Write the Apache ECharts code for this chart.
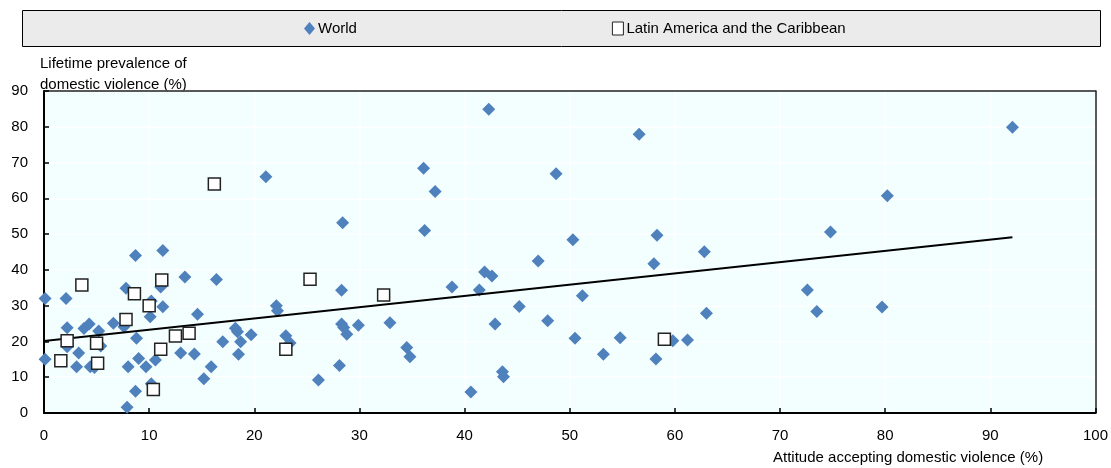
<!DOCTYPE html>
<html>
<head>
<meta charset="utf-8">
<script src="https://cdn.jsdelivr.net/npm/echarts@6/dist/echarts.min.js"></script>
<style>
  html, body { margin: 0; padding: 0; background: #fff; }
  #chart { width: 1111px; height: 468px; }
</style>
</head>
<body>
<div id="chart"></div>
<script>
// World: attitude accepting domestic violence (%) vs lifetime prevalence (%)
const worldAttitude = [
  0.1, 2.1, 8.7, 11.3, 13.4, 16.4, 7.8, 11.1, 10.2, 10.1, 11.3, 2.2, 3.8, 4.3, 5.2, 6.6, 7.6,
  14.6, 17.0, 8.8, 3.3, 2.2, 0.1, 5.4, 13.0, 14.3, 15.9, 15.2, 9.0, 10.6, 9.7, 8.0, 8.7, 7.9,
  10.2, 3.1, 4.4, 4.8,
  21.1, 28.4, 28.3, 22.1, 22.2, 18.2, 18.4, 19.7, 18.7, 23.0, 23.4, 28.3, 28.5, 28.8, 29.9,
  28.1, 26.1, 18.5,
  42.3, 36.1, 37.2, 48.7, 36.2, 50.3, 47.0, 41.9, 42.6, 38.8, 41.4, 45.2, 32.9, 42.9, 47.9,
  34.5, 34.8, 43.6, 43.7, 40.6, 50.5,
  56.6, 58.3, 58.0, 62.8, 51.2, 63.0, 54.8, 53.2, 59.8, 61.2, 58.2,
  92.1, 80.2, 74.8, 72.6, 73.5, 79.7
];
const worldPrevalence = [
  32.0, 32.0, 44.0, 45.4, 38.0, 37.3, 34.9, 35.2, 31.3, 26.9, 29.7, 23.8, 23.6, 24.9, 22.9, 25.1, 24.1,
  27.6, 19.9, 20.9, 16.8, 18.5, 15.0, 18.7, 16.8, 16.5, 12.9, 9.6, 15.2, 14.8, 12.9, 12.9, 6.1, 1.6,
  8.2, 12.9, 12.9, 12.7,
  66.0, 53.2, 34.3, 30.0, 28.6, 23.7, 22.7, 21.9, 19.9, 21.6, 19.6, 24.9, 23.9, 22.0, 24.5,
  13.3, 9.2, 16.4,
  84.9, 68.4, 61.9, 66.9, 51.0, 48.4, 42.5, 39.4, 38.3, 35.2, 34.4, 29.8, 25.2, 24.9, 25.8,
  18.3, 15.7, 11.5, 10.1, 5.9, 20.9,
  77.9, 49.7, 41.7, 45.1, 32.8, 27.9, 21.0, 16.4, 20.2, 20.4, 15.1,
  79.9, 60.7, 50.6, 34.4, 28.4, 29.6
];

// Latin America and the Caribbean
const latamAttitude = [11.2, 10.0, 2.2, 1.6, 5.0, 5.1, 3.6, 8.6, 7.8, 12.5, 13.8, 11.1, 10.4, 16.2, 25.3, 32.3, 23.0, 59.0];
const latamPrevalence = [37.2, 30.0, 20.2, 14.6, 19.5, 13.9, 35.8, 33.3, 26.1, 21.5, 22.3, 17.8, 6.6, 64.0, 37.4, 33.0, 17.8, 20.6];

// linear trend (world)
const trendX = [0, 92.1];
const trendY = [20.1, 49.1];

const seriesNames = ['World', 'Latin America and the Caribbean'];
const FONT = 'Liberation Sans, Arial, sans-serif';

let chart = echarts.init(document.getElementById('chart'));

let zip = (xs, ys) => xs.map((x, i) => [x, ys[i]]);

// frame-only axis for the top / right border of the plot
let frameAxis = (pos, max) => ({
    type: 'value', position: pos, min: 0, max: max,
    axisLine: { show: true, onZero: false, lineStyle: { color: '#222', width: 1.5 } },
    axisTick: { show: false },
    axisLabel: { show: false },
    splitLine: { show: false }
});

let option = {
    backgroundColor: '#fff',
    animation: false,
    textStyle: { fontFamily: FONT, color: '#000' },
    graphic: [
        {
            type: 'rect', z: 0,
            shape: { x: 22.5, y: 10.5, width: 1078, height: 36 },
            style: { fill: '#ebebeb', stroke: '#000', lineWidth: 1 }
        },
        {
            type: 'text', left: 40, top: 53,
            style: { text: 'Lifetime prevalence of\ndomestic violence (%)', font: '15px ' + FONT, fill: '#000', lineHeight: 21 }
        },
        {
            type: 'text', left: 773, top: 450,
            style: { text: 'Attitude accepting domestic violence (%)', font: '15px ' + FONT, fill: '#000' }
        }
    ],
    legend: {
        z: 100,
        data: [
            { name: seriesNames[0], icon: 'diamond' },
            { name: seriesNames[1], icon: 'rect', itemStyle: { borderWidth: 1, borderColor: '#222' } }
        ],
        left: 304,
        top: 21,
        padding: 0,
        itemGap: 255,
        itemWidth: 11,
        itemHeight: 13,
        textStyle: { fontSize: 15, fontFamily: FONT, color: '#000', padding: [0, 0, 0, -2] }
    },
    grid: {
        left: 44, right: 15, top: 91, bottom: 55,
        show: true,
        backgroundColor: '#f3ffff',
        borderWidth: 0
    },
    xAxis: [
        {
            type: 'value',
            min: 0, max: 100, interval: 10,
            axisLine: { lineStyle: { color: '#000', width: 2 } },
            axisTick: { inside: true, length: 5, lineStyle: { color: '#000', width: 1.5 } },
            axisLabel: { fontSize: 15, color: '#000', margin: 15, fontFamily: FONT },
            splitLine: { show: true, lineStyle: { color: '#fff', width: 1.5 } }
        },
        frameAxis('top', 100)
    ],
    yAxis: [
        {
            type: 'value',
            min: 0, max: 90, interval: 10,
            axisLine: { show: true, lineStyle: { color: '#000', width: 2 } },
            axisTick: { show: true, inside: true, length: 5, lineStyle: { color: '#000', width: 1.5 } },
            axisLabel: { fontSize: 15, color: '#000', margin: 16, fontFamily: FONT },
            splitLine: { show: true, lineStyle: { color: '#fff', width: 1.5 } }
        },
        frameAxis('right', 90)
    ],
    series: [
        {
            name: seriesNames[0],
            type: 'scatter',
            symbol: 'diamond',
            symbolSize: 13,
            itemStyle: { color: '#4f81bd', opacity: 1 },
            data: zip(worldAttitude, worldPrevalence),
            z: 2
        },
        {
            name: 'trend',
            type: 'line',
            data: zip(trendX, trendY),
            symbol: 'none',
            lineStyle: { color: '#000', width: 2 },
            z: 3
        },
        {
            name: seriesNames[1],
            type: 'scatter',
            symbol: 'rect',
            symbolSize: 12,
            itemStyle: { color: '#fff', borderColor: '#222', borderWidth: 1.5, opacity: 1 },
            data: zip(latamAttitude, latamPrevalence),
            z: 4
        }
    ]
};
chart.setOption(option);
</script>
</body>
</html>
